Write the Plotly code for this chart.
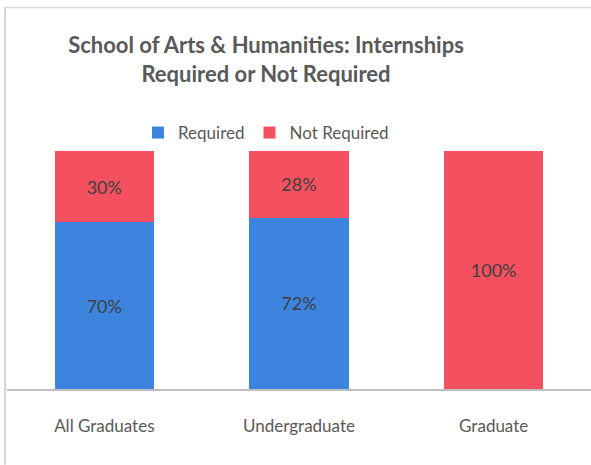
import plotly.graph_objects as go

categories = ["All Graduates", "Undergraduate", "Graduate"]
required = [0.70, 0.72, 0.00]
not_required = [0.30, 0.28, 1.00]

BLUE = "#3D84DE"
RED = "#F4505F"
FONT = "Lato, 'Open Sans', sans-serif"

def labels(vals):
    return [f"{v:.0%}" if v > 0 else "" for v in vals]

fig = go.Figure()
fig.add_trace(go.Bar(
    x=categories, y=required, name="Required", marker_color=BLUE,
    marker_line_width=0, text=labels(required), textposition="inside",
    insidetextanchor="middle", textangle=0,
    textfont=dict(color="#404040", size=18, family=FONT),
))
fig.add_trace(go.Bar(
    x=categories, y=not_required, name="Not Required", marker_color=RED,
    marker_line_width=0, text=labels(not_required), textposition="inside",
    insidetextanchor="middle", textangle=0,
    textfont=dict(color="#404040", size=18, family=FONT),
))

fig.update_layout(
    width=591, height=465,
    barmode="stack", bargap=0.49,
    plot_bgcolor="white", paper_bgcolor="white",
    margin=dict(l=7, r=0, t=150, b=76),
    font=dict(family=FONT, color="#595959", size=17),
    title=dict(
        text="<b>School of Arts & Humanities: Internships<br>Required or Not Required</b>",
        x=266/591, xanchor="center", xref="container",
        y=1-53/465, yanchor="top", yref="container",
        font=dict(size=22, color="#595959", family=FONT),
    ),
    legend=dict(
        orientation="h", x=266/591, xanchor="center", xref="container",
        y=1-133/465, yanchor="middle", yref="container",
        font=dict(size=17, color="#595959", family=FONT),
        traceorder="normal", itemwidth=30,
    ),
    showlegend=True,
)
fig.update_xaxes(
    showline=True, linecolor="#BFBFBF", linewidth=1.5,
    ticks="", showgrid=False, ticklabelstandoff=21,
    tickfont=dict(size=17, color="#595959", family=FONT),
)
fig.update_yaxes(range=[0, 1], visible=False, showgrid=False)

# chart-area border (left and top edges visible)
fig.add_shape(type="line", xref="paper", yref="paper",
              x0=-2/584, x1=-2/584, y0=-76/239, y1=(389-6)/239,
              line=dict(color="#C8C8C8", width=1.5))
fig.add_shape(type="line", xref="paper", yref="paper",
              x0=-2/584, x1=1.0, y0=(389-6)/239, y1=(389-6)/239,
              line=dict(color="#D8D8D8", width=1.5))

fig.write_html(
    "out.html",
    config={"displayModeBar": False},
    post_script="document.body.style.margin='0';document.body.style.overflow='hidden';",
)
